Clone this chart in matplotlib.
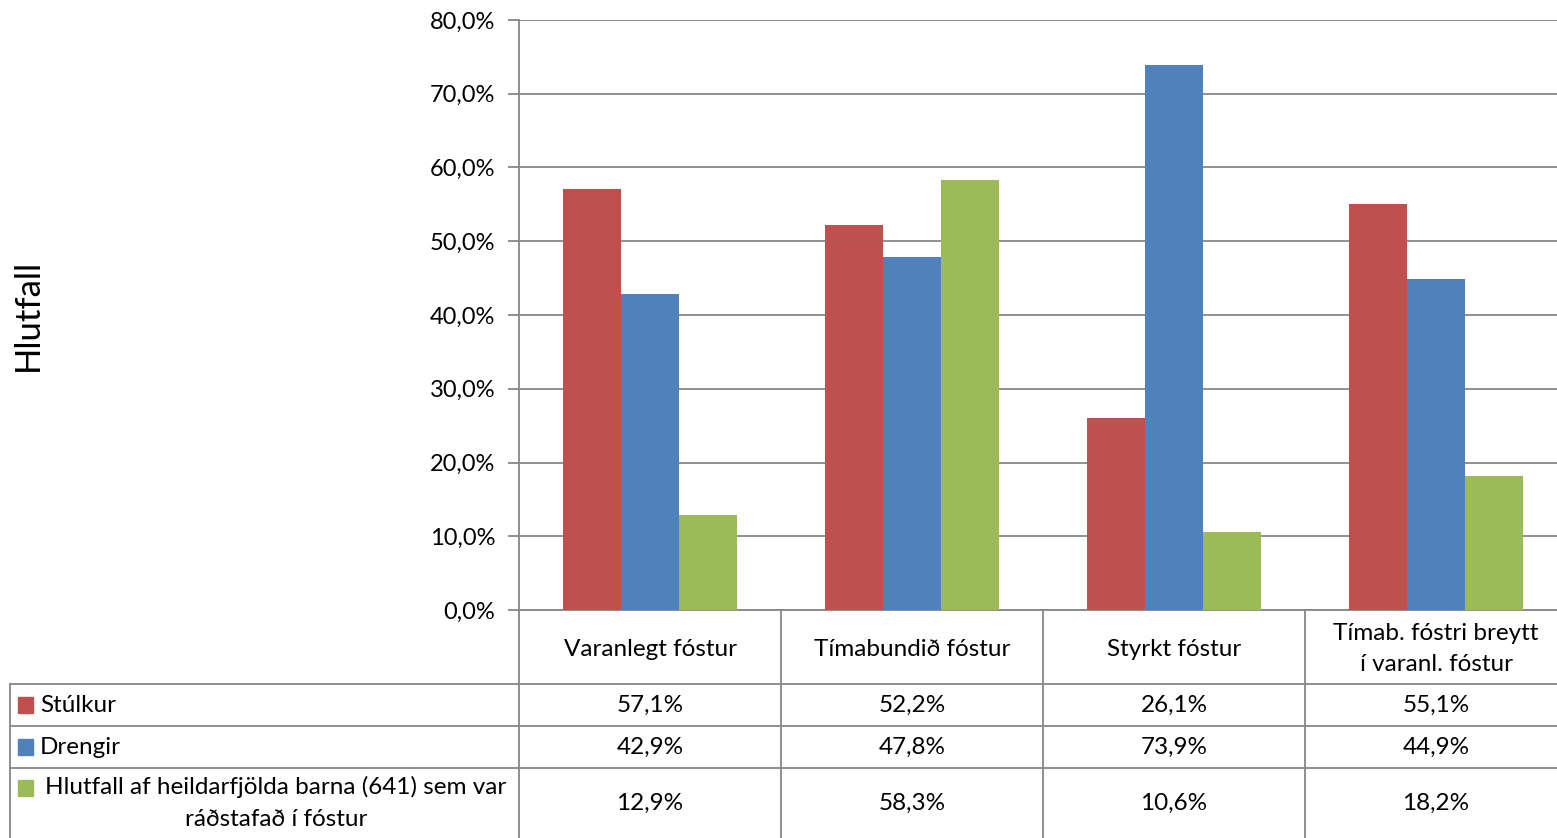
import numpy as np
import matplotlib.pyplot as plt
from matplotlib.lines import Line2D
from matplotlib.patches import Rectangle

plt.rcParams['font.family'] = ['Lato', 'DejaVu Sans']

categories = ["Varanlegt fóstur", "Tímabundið fóstur", "Styrkt fóstur",
              "Tímab. fóstri breytt\ní varanl. fóstur"]
series_names = ["Stúlkur", "Drengir",
                "Hlutfall af heildarfjölda barna (641) sem var\nráðstafað í fóstur"]
stulkur = [57.1, 52.2, 26.1, 55.1]
drengir = [42.9, 47.8, 73.9, 44.9]
hlutfall = [12.9, 58.3, 10.6, 18.2]
colors = ["#C0504D", "#4F81BD", "#9BBB59"]
yticks = [0, 10, 20, 30, 40, 50, 60, 70, 80]

W, H = 1557, 838
fig = plt.figure(figsize=(W / 100, H / 100), dpi=100)

# pixel layout (plot area runs a bit past the right edge, as in the original)
col_w = 262
ax_left, ax_top, ax_bottom = 519, 20, 610
ax_right = ax_left + col_w * len(categories)
row_lines = [684, 726, 768, 838]
tab_left = 10

def fx(px):
    return px / W

def fy(py):
    return 1 - py / H

ax = fig.add_axes([fx(ax_left), fy(ax_bottom), fx(ax_right - ax_left), (ax_bottom - ax_top) / H])

grid_c = "#878787"
x = np.arange(len(categories))
bw = 58 / col_w
all_series = [stulkur, drengir, hlutfall]
for i, (vals, c) in enumerate(zip(all_series, colors)):
    ax.bar(x + (i - 1) * bw, vals, width=bw, color=c, zorder=3)

ax.set_xlim(-0.5, len(categories) - 0.5)
ax.set_ylim(0, 80)
ax.set_yticks(yticks)
ax.set_yticklabels([f"{v:.1f}%".replace(".", ",") for v in yticks], fontsize=17)
ax.set_xticks([])
ax.yaxis.grid(True, color=grid_c, linewidth=1.3, zorder=0)
for s in ["top", "right"]:
    ax.spines[s].set_visible(False)
ax.spines["left"].set_color(grid_c)
ax.spines["left"].set_linewidth(1.3)
ax.spines["bottom"].set_color(grid_c)
ax.spines["bottom"].set_linewidth(1.3)
ax.tick_params(axis="y", length=8, color=grid_c, width=1.3, pad=9)
ax.set_ylabel("Hlutfall", fontsize=25)
ax.yaxis.set_label_coords(-(ax_left - 28) / (ax_right - ax_left), 0.5)
ax.yaxis.label.set_va("center")

# data table
lw = 1.3
def hline(y, x0, x1):
    fig.add_artist(Line2D([fx(x0), fx(x1)], [fy(y), fy(y)], color=grid_c, lw=lw))

def vline(xp, y0, y1):
    fig.add_artist(Line2D([fx(xp), fx(xp)], [fy(y0), fy(y1)], color=grid_c, lw=lw))

for r in row_lines[:-1]:
    hline(r, tab_left, W)
for k in range(len(categories)):
    vline(ax_left + k * col_w, ax_bottom, H)
vline(tab_left, row_lines[0], H)

fs = 17.5
# header row
for k, cat in enumerate(categories):
    cx = ax_left + (k + 0.5) * col_w
    fig.text(fx(cx), fy((ax_bottom + row_lines[0]) / 2 + 2), cat, ha="center", va="center",
             fontsize=fs, linespacing=1.6)

# data rows
row_tops = row_lines[:3]
row_bots = row_lines[1:]
for i, (name, vals, c) in enumerate(zip(series_names, all_series, colors)):
    cy = (row_tops[i] + row_bots[i]) / 2
    if i < 2:
        fig.add_artist(Rectangle((fx(18), fy(cy + 8)), fx(15), 16 / H, color=c))
        fig.text(fx(40), fy(cy), name, ha="left", va="center", fontsize=fs)
    else:
        fig.add_artist(Rectangle((fx(18), fy(cy - 7)), fx(15), 16 / H, color=c))
        fig.text(fx(276), fy(cy), name, ha="center", va="center", fontsize=fs,
                 linespacing=1.6, multialignment="center")
    for k, v in enumerate(vals):
        cx = ax_left + (k + 0.5) * col_w
        fig.text(fx(cx), fy(cy), f"{v:.1f}%".replace(".", ","), ha="center", va="center",
                 fontsize=fs)

fig.savefig("out.png", dpi=100)
